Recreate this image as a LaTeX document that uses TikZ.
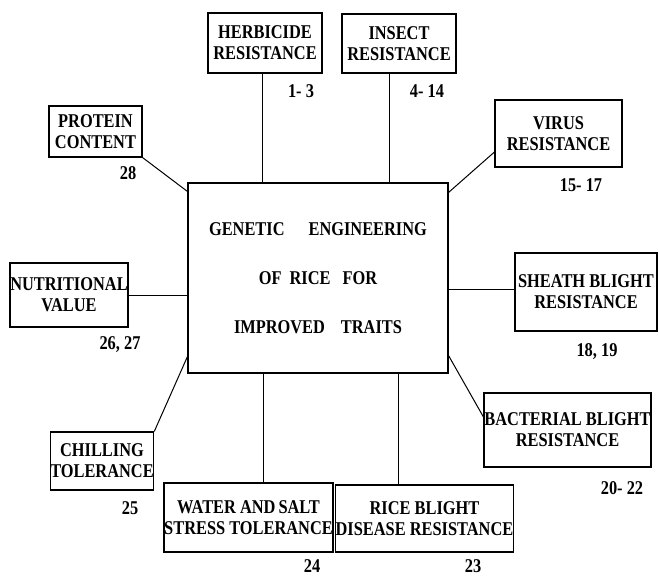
\documentclass[tikz,border=0pt]{standalone}
\usepackage{fontspec}
\setmainfont{Liberation Serif}[FakeStretch=0.84]
\usetikzlibrary{positioning}

\begin{document}
\begin{tikzpicture}[
  x=1pt, y=-1pt,
  trait/.style={draw, line width=1.1pt, align=center, inner sep=0pt,
    font=\bfseries\fontsize{19.5}{21}\selectfont},
  refno/.style={inner sep=0pt, font=\bfseries\fontsize{19.5}{21}\selectfont},
  link/.style={draw, line width=1pt},
]
\useasboundingbox (0,0) rectangle (659,576);
% Centre box
\node[trait, minimum width=260pt, minimum height=190pt] (main) at (318,278)
  {GENETIC\hspace{24pt}ENGINEERING\\[28pt]
   OF\hspace{8pt}RICE\hspace{12pt}FOR\\[28pt]
   IMPROVED\hspace{16pt}TRAITS};
% Traits round it
\node[trait, minimum width=114pt, minimum height=60pt] (herb) at (265,43)
  {HERBICIDE\\RESISTANCE};
\node[trait, minimum width=114pt, minimum height=59pt] (insect) at (399,43.5)
  {INSECT\\RESISTANCE};
\node[trait, minimum width=127pt, minimum height=67pt] (virus) at (558.5,133.5)
  {VIRUS\\RESISTANCE};
\node[trait, minimum width=93pt, minimum height=51pt] (protein) at (95.5,131.5)
  {PROTEIN\\CONTENT};
\node[trait, minimum width=118pt, minimum height=64pt] (nutri) at (69,295)
  {NUTRITIONAL\\VALUE};
\node[trait, minimum width=142pt, minimum height=78pt] (sheath) at (586,292)
  {SHEATH BLIGHT\\RESISTANCE};
\node[trait, minimum width=100pt, minimum height=58pt] (chill) at (102,461)
  {CHILLING\\TOLERANCE};
\node[trait, minimum width=169pt, minimum height=69pt] (water) at (248.5,517.5)
  {WATER AND\hspace{3pt}SALT\\STRESS TOLERANCE};
\node[trait, minimum width=175pt, minimum height=67pt] (rice) at (424.5,518.5)
  {RICE BLIGHT\\DISEASE RESISTANCE};
\node[trait, minimum width=167pt, minimum height=74pt] (bact) at (567.5,430)
  {BACTERIAL BLIGHT\\RESISTANCE};
% Reference numbers
\node[refno] (n1) at (301,91) {1- 3};
\node[refno] (n2) at (427,91) {4- 14};
\node[refno] (n3) at (581,185) {15- 17};
\node[refno] (n4) at (128,173) {28};
\node[refno] (n5) at (120,345) {26, 27};
\node[refno] (n6) at (597,352) {18, 19};
\node[refno] (n7) at (622,488) {20- 22};
\node[refno] (n8) at (130,508) {25};
\node[refno] (n9) at (312,566) {24};
\node[refno] (n10) at (473,566) {23};
% Links
\draw[link] ([xshift=-3pt]herb.south) -- ([xshift=-3pt]herb.south |- main.north);
\draw[link] ([xshift=-10pt]insect.south) -- ([xshift=-10pt]insect.south |- main.north);
\draw[link] ([yshift=-18.5pt]virus.west) -- ([yshift=-10pt]main.north east);
\draw[link] (protein.south east) -- ([yshift=-9pt]main.north west);
\draw[link] (nutri.east) -- (nutri.east -| main.west);
\draw[link] ([yshift=3pt]sheath.west) -- ([yshift=3pt]sheath.west -| main.east);
\draw[link] (chill.north east) -- ([yshift=17pt]main.south west);
\draw[link] ([xshift=14.5pt]water.north) -- ([xshift=14.5pt]water.north |- main.south);
\draw[link] ([xshift=-26.5pt]rice.north) -- ([xshift=-26.5pt]rice.north |- main.south);
\draw[link] ([yshift=13pt]bact.west) -- ([yshift=18pt]main.south east);
\end{tikzpicture}
\end{document}
